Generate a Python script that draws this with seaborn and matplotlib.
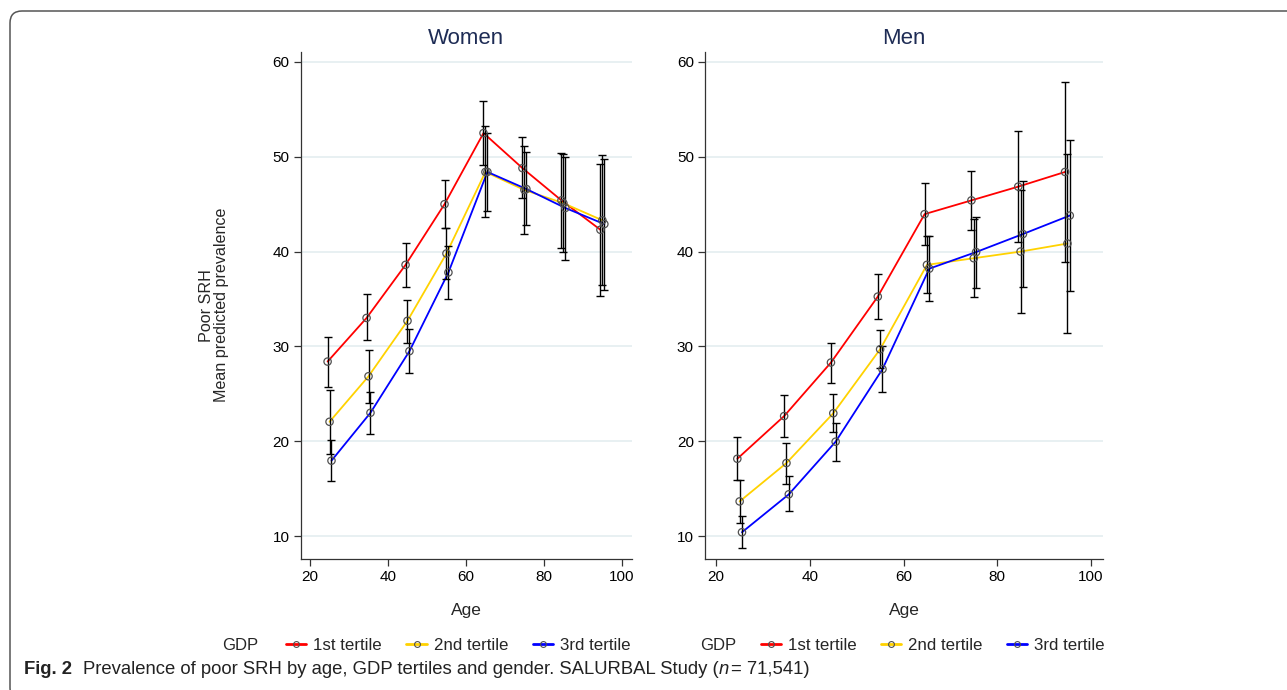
import numpy as np
import pandas as pd
import seaborn as sns
import matplotlib.pyplot as plt
import matplotlib.patches as mpatches
from matplotlib.lines import Line2D
from matplotlib.transforms import IdentityTransform

ages = [25, 35, 45, 55, 65, 75, 85, 95]
tertiles = ["1st tertile", "2nd tertile", "3rd tertile"]

# Women: mean predicted prevalence and 95% CI
women_t1 = [28.4, 33.0, 38.6, 45.0, 52.5, 48.8, 45.4, 42.3]
women_t1_lo = [25.7, 30.7, 36.3, 42.45, 49.1, 45.6, 40.4, 35.3]
women_t1_hi = [31.0, 35.5, 40.9, 47.55, 55.9, 52.05, 50.4, 49.2]
women_t2 = [22.05, 26.85, 32.7, 39.8, 48.4, 46.5, 45.1, 43.3]
women_t2_lo = [18.7, 24.0, 30.4, 37.1, 43.6, 41.9, 40.0, 36.5]
women_t2_hi = [25.4, 29.65, 34.9, 42.45, 53.2, 51.1, 50.3, 50.2]
women_t3 = [17.95, 23.0, 29.5, 37.8, 48.4, 46.6, 44.6, 42.9]
women_t3_lo = [15.8, 20.8, 27.2, 35.0, 44.3, 42.8, 39.1, 36.0]
women_t3_hi = [20.1, 25.2, 31.8, 40.6, 52.5, 50.5, 50.0, 49.8]

# Men
men_t1 = [18.15, 22.65, 28.3, 35.25, 43.95, 45.4, 46.85, 48.4]
men_t1_lo = [15.9, 20.45, 26.1, 32.9, 40.7, 42.25, 41.0, 38.9]
men_t1_hi = [20.4, 24.85, 30.4, 37.6, 47.2, 48.5, 52.75, 57.9]
men_t2 = [13.65, 17.7, 22.95, 29.7, 38.6, 39.3, 40.0, 40.85]
men_t2_lo = [11.4, 15.5, 20.95, 27.7, 35.6, 35.2, 33.5, 31.4]
men_t2_hi = [15.9, 19.85, 24.95, 31.7, 41.6, 43.4, 46.5, 50.3]
men_t3 = [10.4, 14.4, 19.95, 27.6, 38.2, 39.95, 41.85, 43.8]
men_t3_lo = [8.7, 12.6, 17.95, 25.2, 34.8, 36.2, 36.3, 35.8]
men_t3_hi = [12.1, 16.3, 21.95, 30.0, 41.6, 43.7, 47.4, 51.8]

yticks = [10, 20, 30, 40, 50, 60]
xticks = [20, 40, 60, 80, 100]

colors = ["#FF0000", "#FFD200", "#0000FF"]
dodge = [-0.5, 0.0, 0.5]


def make_frame(means, los, his):
    rows = []
    for k, t in enumerate(tertiles):
        for a, m, lo, hi in zip(ages, means[k], los[k], his[k]):
            rows.append({"age": a + dodge[k], "prev": m, "lo": lo, "hi": hi, "tertile": t})
    return pd.DataFrame(rows)


women = make_frame([women_t1, women_t2, women_t3],
                   [women_t1_lo, women_t2_lo, women_t3_lo],
                   [women_t1_hi, women_t2_hi, women_t3_hi])
men = make_frame([men_t1, men_t2, men_t3],
                 [men_t1_lo, men_t2_lo, men_t3_lo],
                 [men_t1_hi, men_t2_hi, men_t3_hi])

sns.set_theme(style="white")
plt.rcParams["font.family"] = ["Liberation Sans", "DejaVu Sans"]

W, H = 1287, 690
fig = plt.figure(figsize=(W / 100, H / 100), dpi=100)

panels = [("Women", women, 300.7), ("Men", men, 705.0)]
widths = {"Women": 331.3, "Men": 398.0}
palette = dict(zip(tertiles, colors))

for title, df, left in panels:
    ax = fig.add_axes([left / W, (H - 558.5) / H, widths[title] / W, (558.5 - 52) / H])
    sns.lineplot(data=df, x="age", y="prev", hue="tertile", palette=palette,
                 linewidth=1.3, legend=False, ax=ax, zorder=2)
    for t in tertiles:
        d = df[df["tertile"] == t]
        ax.errorbar(d["age"], d["prev"], yerr=[d["prev"] - d["lo"], d["hi"] - d["prev"]],
                    fmt="none", ecolor="black", elinewidth=1.0, capsize=3.2,
                    capthick=1.0, zorder=3)
    sns.scatterplot(data=df, x="age", y="prev", color="none",
                    s=28, edgecolor="#505050", linewidth=0.9, legend=False,
                    ax=ax, zorder=4)

    ax.set_xlim(17.6, 102.6)
    ax.set_ylim(7.63, 61.05)
    ax.set_xticks(xticks)
    ax.set_yticks(yticks)
    ax.yaxis.grid(True, color="#E8F0F2", linewidth=1.4)
    ax.xaxis.grid(False)
    ax.set_axisbelow(True)
    for s in ["top", "right"]:
        ax.spines[s].set_visible(False)
    for s in ["left", "bottom"]:
        ax.spines[s].set_color("#333333")
        ax.spines[s].set_linewidth(0.9)
    ax.tick_params(axis="both", which="major", direction="out", length=5, width=0.9,
                   color="#333333", labelsize=11, labelcolor="black", pad=3,
                   bottom=True, left=True)
    ax.set_xlabel("Age", fontsize=12.5, labelpad=14)
    ax.set_title(title, fontsize=16, color="#1E2C55", pad=6)
    if title == "Women":
        ax.set_ylabel("Poor SRH\nMean predicted prevalence", fontsize=11.6, linespacing=1.05)
        ax.yaxis.set_label_coords(-0.216, 0.5)
    else:
        ax.set_ylabel("")

# legends below each panel
ly = (H - 645) / H
for gdp_x, leg_x in [(222, 286), (700, 760.5)]:
    fig.text(gdp_x / W, ly, "GDP", fontsize=12, va="center", ha="left")
    handles = [Line2D([], [], color=c, linewidth=2.0, marker="o", markersize=4.2,
                      markerfacecolor="none", markeredgecolor="#505050", markeredgewidth=0.8)
               for c in colors]
    fig.legend(handles, tertiles, loc="center left", bbox_to_anchor=(leg_x / W, ly),
               ncol=3, frameon=False, fontsize=12.2, handlelength=1.2,
               handletextpad=0.4, columnspacing=1.45, borderpad=0, borderaxespad=0)

# rounded frame (only top and left edges fall inside the image)
frame = mpatches.FancyBboxPatch((10, -10), 1310, 689, boxstyle="round,pad=0,rounding_size=12",
                                transform=IdentityTransform(), fill=False,
                                edgecolor="#555555", linewidth=1.1)
fig.patches.append(frame)

# caption in pieces
cap_font = ["Liberation Sans Narrow", "Liberation Sans", "DejaVu Sans"]
renderer = fig.canvas.get_renderer()
cy = (H - 670) / H
x = 24
pieces = [("Fig. 2", "bold", "normal", 11),
          ("Prevalence of poor SRH by age, GDP tertiles and gender. SALURBAL Study (", "normal", "normal", 0),
          ("n", "normal", "italic", 2),
          ("= 71,541)", "normal", "normal", 0)]
for txt, weight, style, gap in pieces:
    t = fig.text(x / W, cy, txt, fontsize=13.3, fontweight=weight, fontstyle=style,
                 family=cap_font, va="center", ha="left", color="#222222")
    bb = t.get_window_extent(renderer)
    x += bb.width + gap

fig.savefig("out.png", dpi=100)
